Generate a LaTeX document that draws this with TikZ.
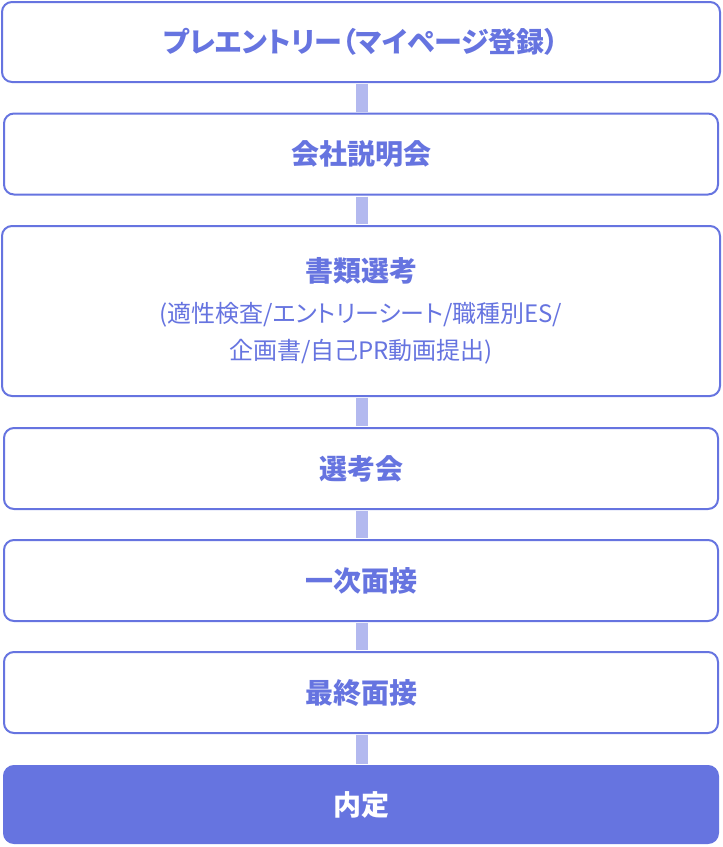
\documentclass[tikz,border=0pt]{standalone}
\usepackage{fontspec}
\setmainfont{Noto Sans CJK JP}[RawFeature=+palt]
\definecolor{stepblue}{HTML}{6674E0}
\definecolor{steplink}{HTML}{B3B9EF}
\newcommand\subfont{\mdseries\fontsize{24}{37}\selectfont}
\begin{document}
\begin{tikzpicture}[x=1pt,y=-1pt,
  box/.style={draw=stepblue,line width=2pt,rounded corners=10pt,fill=white,
    minimum width=714pt,minimum height=81pt,inner sep=0pt,text=stepblue,
    font=\bfseries\fontsize{28}{37}\selectfont},
  wide/.style={minimum width=718pt},
  link/.style={draw=steplink,line width=12pt,shorten <=1pt,shorten >=1pt}]
  \useasboundingbox (0,0) rectangle (723,847);

  \node[box,wide,minimum height=80pt] (entry) at (361,42) {プレエントリー（マイページ登録）};
  \node[box] (seminar) at (361,154) {会社説明会};
  \node[box,wide,minimum height=170pt,align=center] (docs) at (361,311)
  {書類選考\\[4pt]{\subfont (適性検査/エントリーシート/職種別ES/}\\
    {\subfont 企画書/自己PR動画提出)}};
  \node[box] (select) at (361,468.5) {選考会};
  \node[box] (first) at (361,580.5) {一次面接};
  \node[box] (final) at (361,692.5) {最終面接};
  \node[box,fill=stepblue,text=white,minimum width=714pt,minimum height=77pt]
  (offer) at (361,804.5) {内定};

  \foreach \a/\b in {entry/seminar,seminar/docs,docs/select,select/first,
    first/final,final/offer}
  \draw[link] ([xshift=1pt]\a.south) -- ([xshift=1pt]\b.north);

\end{tikzpicture}
\end{document}
